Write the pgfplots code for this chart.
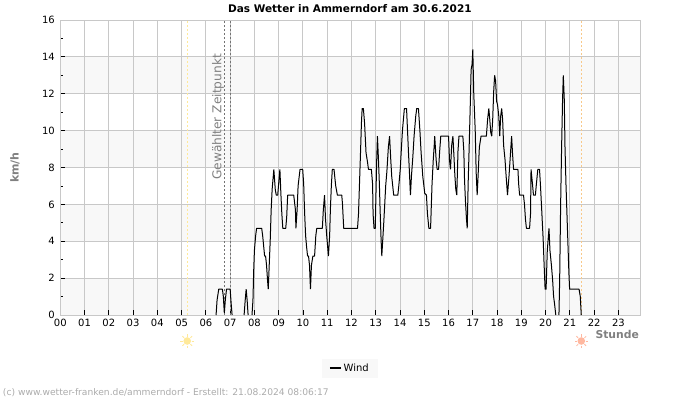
\documentclass[border=0pt]{standalone}
\usepackage{fontspec}
\setmainfont{DejaVu Sans}
\usepackage{pgfplots}
\pgfplotsset{compat=1.18}
\definecolor{band}{HTML}{F8F8F8}
\definecolor{gridc}{HTML}{C8C8C8}
\definecolor{labelc}{HTML}{808080}
\definecolor{footc}{HTML}{ABABAB}
\definecolor{sunup}{HTML}{FFE99A}
\definecolor{sundown}{HTML}{FFB8A0}
\definecolor{sunsetline}{HTML}{F8C98A}
\begin{document}
\begin{tikzpicture}
\begin{axis}[
    set layers=standard,
    scale only axis,
    width=580.4pt,
    height=295pt,
    xmin=0, xmax=23.92,
    ymin=0, ymax=16,
    xtick={0,1,...,23},
    xticklabels={00,01,02,03,04,05,06,07,08,09,10,11,12,13,14,15,16,17,18,19,20,21,22,23},
    ytick={0,2,...,16},
    minor y tick num=1,
    tick align=inside,
    xtick pos=bottom,
    ytick pos=left,
    major tick length=5pt,
    minor tick length=3pt,
    tick style={black, line width=.8pt},
    grid=major,
    major grid style={gridc, line width=.9pt},
    axis line style={gridc, line width=.9pt},
    tick label style={font=\fontsize{10}{12}\selectfont, black},
    /pgf/number format/assume math mode=true,
    xticklabel style={yshift=-1pt},
    yticklabel style={xshift=-2pt},
    title={\bfseries Das Wetter in Ammerndorf am 30.6.2021},
    title style={font=\fontsize{10.5}{12}\selectfont, at={(0.499,1)}, anchor=south, yshift=-2.5pt},
    xlabel={\bfseries Stunde},
    xlabel style={font=\fontsize{10.8}{12}\selectfont, text=labelc, at={(rel axis cs:1.003,-0.0655)}, anchor=east},
    ylabel={\bfseries km/h},
    ylabel style={font=\fontsize{11}{12}\selectfont, text=labelc, at={(rel axis cs:-0.078,0.5)}, anchor=center, rotate=0},
    legend style={at={(rel axis cs:0.499,-0.18)}, anchor=center, fill=band, draw=none,
        font=\fontsize{10}{12}\selectfont, inner xsep=7pt, inner ysep=3pt},
    legend cell align=left,
    legend image code/.code={\draw[black, line width=1.6pt] (0pt,0pt) -- (11pt,0pt);},
    unbounded coords=jump,
]
    % Hintergrundbaender
    \addplot[forget plot, on layer=axis background, draw=none, fill=band] coordinates {(0,0) (23.92,0) (23.92,2) (0,2)} -- cycle;
    \addplot[forget plot, on layer=axis background, draw=none, fill=band] coordinates {(0,4) (23.92,4) (23.92,6) (0,6)} -- cycle;
    \addplot[forget plot, on layer=axis background, draw=none, fill=band] coordinates {(0,8) (23.92,8) (23.92,10) (0,10)} -- cycle;
    \addplot[forget plot, on layer=axis background, draw=none, fill=band] coordinates {(0,12) (23.92,12) (23.92,14) (0,14)} -- cycle;

    % Sonnenaufgang, Sonnenuntergang, gewaehlter Zeitpunkt
    \addplot[forget plot, sunup, line width=.8pt, dash pattern=on 2pt off 2pt] coordinates {(5.235,0) (5.235,16)};
    \addplot[forget plot, sunsetline, line width=.8pt, dash pattern=on 2pt off 2pt] coordinates {(21.48,0) (21.48,16)};
    \addplot[forget plot, black!55, line width=.7pt, dash pattern=on 2pt off 2pt] coordinates {(6.76,0) (6.76,16)};
    \addplot[forget plot, black!55, line width=.7pt, dash pattern=on 2pt off 2pt] coordinates {(7.0,0) (7.0,16)};

    \addplot[black, line width=1pt, no marks, line join=bevel] table[row sep=\\] {
        x y \\
        6.42 0 \\ 6.46 0.8 \\ 6.53 1.4 \\ 6.68 1.4 \\ 6.72 1.0 \\ 6.76 0.1 \\ 6.80 0.8 \\ 6.85 1.4 \\ 7.00 1.4 \\ 7.04 0.65 \\ 7.08 0 \\
        7.3 nan \\
        7.575 0 \\ 7.62 0.8 \\ 7.66 1.4 \\ 7.70 0.8 \\ 7.74 0 \\
        7.8 nan \\
        7.90 0 \\ 7.94 0.8 \\ 7.97 2.4 \\ 8.00 3.5 \\ 8.05 4.3 \\ 8.09 4.7 \\ 8.30 4.7 \\ 8.34 4.3 \\ 8.42 3.2 \\ 8.46 3.2 \\ 8.50 2.7 \\ 8.54 1.9 \\ 8.57 1.4 \\
        8.61 2.7 \\ 8.65 4.0 \\ 8.69 5.7 \\ 8.73 6.8 \\ 8.80 7.9 \\ 8.86 6.8 \\ 8.90 6.5 \\ 8.96 6.5 \\ 9.01 7.3 \\ 9.05 7.9 \\ 9.09 6.6 \\ 9.13 5.5 \\ 9.17 4.7 \\
        9.29 4.7 \\ 9.33 5.3 \\ 9.37 6.5 \\ 9.62 6.5 \\ 9.69 5.7 \\ 9.71 4.7 \\ 9.76 5.7 \\ 9.80 7.0 \\ 9.88 7.9 \\ 9.99 7.9 \\ 10.03 7.1 \\ 10.07 5.5 \\ 10.11 4.3 \\
        10.15 3.7 \\ 10.19 3.2 \\ 10.23 3.2 \\ 10.27 2.7 \\ 10.31 1.4 \\ 10.35 2.7 \\ 10.41 3.2 \\ 10.48 3.2 \\ 10.53 4.3 \\ 10.57 4.7 \\ 10.80 4.7 \\ 10.84 5.7 \\
        10.89 6.5 \\ 10.93 5.2 \\ 10.98 4.3 \\ 11.05 3.2 \\ 11.10 4.3 \\ 11.13 5.7 \\ 11.17 7.0 \\ 11.21 7.9 \\ 11.28 7.9 \\ 11.35 7.0 \\ 11.42 6.5 \\
        11.60 6.5 \\ 11.63 6.0 \\ 11.68 4.7 \\ 12.25 4.7 \\ 12.29 5.5 \\ 12.33 7.1 \\ 12.37 8.7 \\ 12.41 10.4 \\ 12.44 11.2 \\ 12.49 11.2 \\ 12.54 10.4 \\ 12.60 8.8 \\
        12.66 8.3 \\ 12.70 7.9 \\ 12.82 7.9 \\ 12.87 7.1 \\ 12.89 5.5 \\ 12.93 4.7 \\ 12.98 4.7 \\ 13.00 6.0 \\ 13.04 8.4 \\ 13.07 9.7 \\ 13.11 8.5 \\ 13.15 7.1 \\
        13.18 5.7 \\ 13.22 4.1 \\ 13.25 3.2 \\ 13.29 4.1 \\ 13.33 5.0 \\ 13.37 6.0 \\ 13.41 7.0 \\ 13.46 7.8 \\ 13.52 9.1 \\ 13.57 9.7 \\ 13.62 8.4 \\ 13.66 7.5 \\
        13.70 7.0 \\ 13.74 6.5 \\ 13.91 6.5 \\ 13.95 7.0 \\ 14.01 7.9 \\ 14.06 9.1 \\ 14.10 10.0 \\ 14.18 11.2 \\ 14.27 11.2 \\ 14.31 10.0 \\ 14.35 8.8 \\ 14.39 7.7 \\
        14.43 6.5 \\ 14.47 7.5 \\ 14.53 8.6 \\ 14.58 9.7 \\ 14.65 10.8 \\ 14.69 11.2 \\ 14.76 11.2 \\ 14.82 10.0 \\ 14.87 8.8 \\ 14.94 7.5 \\ 15.02 6.6 \\ 15.09 6.5 \\
        15.13 5.5 \\ 15.19 4.7 \\ 15.26 4.7 \\ 15.28 5.5 \\ 15.32 7.1 \\ 15.37 8.4 \\ 15.41 9.2 \\ 15.43 9.7 \\ 15.49 8.4 \\ 15.53 7.9 \\ 15.59 7.9 \\ 15.63 8.8 \\
        15.68 9.7 \\ 16.00 9.7 \\ 16.04 8.4 \\ 16.08 7.9 \\ 16.13 9.2 \\ 16.18 9.7 \\ 16.22 8.7 \\ 16.26 7.6 \\ 16.30 6.8 \\ 16.34 6.5 \\ 16.39 8.9 \\ 16.43 9.7 \\
        16.59 9.7 \\ 16.63 8.9 \\ 16.66 7.3 \\ 16.70 6.1 \\ 16.74 5.2 \\ 16.77 4.7 \\ 16.81 7.2 \\ 16.85 9.1 \\ 16.90 11.6 \\ 16.93 13.3 \\ 16.97 13.6 \\ 17.00 14.4 \\
        17.04 12.0 \\ 17.10 10.0 \\ 17.14 7.7 \\ 17.18 6.5 \\ 17.22 7.6 \\ 17.27 9.1 \\ 17.34 9.7 \\ 17.56 9.7 \\ 17.61 10.6 \\ 17.66 11.2 \\ 17.70 10.6 \\ 17.74 9.9 \\
        17.78 9.7 \\ 17.82 10.6 \\ 17.86 12.1 \\ 17.90 13.0 \\ 17.94 12.7 \\ 17.98 11.6 \\ 18.02 11.4 \\ 18.07 10.8 \\ 18.11 9.7 \\ 18.15 10.8 \\ 18.19 11.2 \\ 18.23 10.6 \\
        18.27 9.2 \\ 18.33 8.4 \\ 18.37 7.6 \\ 18.43 6.5 \\ 18.49 7.5 \\ 18.53 8.3 \\ 18.60 9.7 \\ 18.64 8.7 \\ 18.68 7.9 \\ 18.86 7.9 \\ 18.89 7.1 \\ 18.93 6.5 \\
        19.09 6.5 \\ 19.13 6.0 \\ 19.17 5.2 \\ 19.21 4.7 \\ 19.34 4.7 \\ 19.38 5.5 \\ 19.40 7.9 \\ 19.46 7.1 \\ 19.50 6.5 \\ 19.58 6.5 \\ 19.62 7.1 \\ 19.68 7.9 \\
        19.75 7.9 \\ 19.79 7.0 \\ 19.84 5.7 \\ 19.90 4.1 \\ 19.94 2.7 \\ 19.98 1.4 \\ 20.02 1.4 \\ 20.07 3.5 \\ 20.14 4.7 \\ 20.18 3.5 \\ 20.24 2.7 \\ 20.29 1.9 \\
        20.33 1.0 \\ 20.37 0.6 \\ 20.42 0 \\
        20.5 nan \\
        20.55 0 \\ 20.58 1.9 \\ 20.62 6.0 \\ 20.66 9.1 \\ 20.70 11.7 \\ 20.73 13.0 \\ 20.77 11.7 \\ 20.80 9.1 \\ 20.84 7.1 \\ 20.88 5.5 \\ 20.92 3.9 \\ 20.96 2.3 \\
        20.99 1.4 \\ 21.38 1.4 \\ 21.43 1.0 \\ 21.47 0 \\
    };
    \addlegendentry{Wind}

    \node[rotate=90, text=labelc, font=\fontsize{12.2}{14}\selectfont, anchor=center] at (axis cs:6.5,10.74) {Gewählter Zeitpunkt};
\end{axis}
% Sonnensymbole
\begin{scope}[shift={(126.9pt,-26pt)}]
  \foreach \a in {0,45,...,315} \draw[sunup, line width=.8pt] (\a:4.5pt) -- (\a:6.8pt);
  \fill[sunup] (0,0) circle (3.8pt);
\end{scope}
\begin{scope}[shift={(521pt,-26pt)}]
  \foreach \a in {0,45,...,315} \draw[sundown, line width=.8pt] (\a:4.5pt) -- (\a:6.8pt);
  \fill[sundown] (0,0) circle (3.8pt);
\end{scope}
\node[anchor=west, text=footc, font=\fontsize{9.15}{11}\selectfont, inner sep=0pt] at (-57.5pt,-78pt) {(c) www.wetter-franken.de/ammerndorf - Erstellt: 21.08.2024 08:06:17};
\path[use as bounding box] (-60.3pt,-85pt) rectangle (639.7pt,315pt);
\end{tikzpicture}
\end{document}
